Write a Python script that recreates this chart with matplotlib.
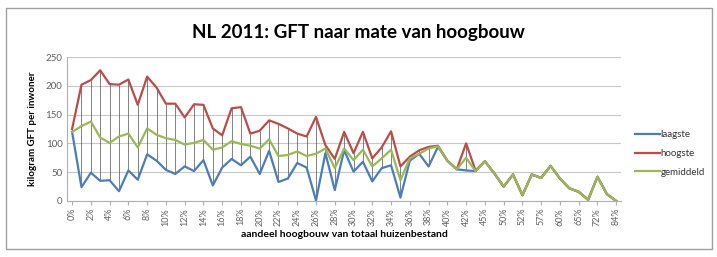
import matplotlib.pyplot as plt
from matplotlib.patches import Rectangle
import numpy as np

plt.rcParams['font.family'] = ['Lato', 'DejaVu Sans']

# categories: aandeel hoogbouw (every other one is labelled on the axis)
cats = [f'{p}%' for p in range(0, 44)] + ['45%', '47%', '50%', '51%', '52%', '55%', '57%', '58%',
                                          '60%', '63%', '65%', '70%', '72%', '80%', '84%']

laagste = [120, 24, 49, 35, 36, 17, 53, 37, 81, 70, 54, 47, 60, 52, 71, 27, 58, 73, 62, 77,
           47, 87, 33, 39, 66, 58, 1, 83, 19, 88, 51, 68, 34, 57, 62, 6, 70, 82, 60, 94,
           70, 55, 53, 52, 69, 48, 25, 46, 10, 46, 40, 61, 39, 22, 16, 2, 42, 12, 0]
hoogste = [125, 202, 210, 227, 203, 202, 211, 167, 216, 197, 169, 169, 145, 168, 167, 126, 114, 161, 163, 117,
           122, 140, 134, 126, 117, 112, 146, 97, 73, 120, 83, 120, 74, 93, 121, 60, 77, 88, 94, 96,
           70, 55, 100, 53, 69, 48, 25, 46, 10, 46, 40, 61, 39, 22, 16, 2, 42, 12, 0]
gemiddeld = [120, 130, 138, 110, 101, 112, 117, 93, 126, 115, 109, 106, 98, 101, 106, 89, 93, 104, 99, 96,
             91, 107, 78, 80, 86, 78, 82, 91, 57, 91, 71, 89, 60, 74, 89, 36, 74, 82, 91, 95,
             70, 55, 75, 52, 69, 48, 25, 46, 10, 46, 40, 61, 39, 22, 16, 2, 42, 12, 0]

x = np.arange(len(cats))
lo = np.minimum.reduce([laagste, hoogste, gemiddeld])
hi = np.maximum.reduce([laagste, hoogste, gemiddeld])

fig = plt.figure(figsize=(7.17, 2.57), dpi=100)
fig.patches.append(Rectangle((0.008, 0.03), 0.985, 0.94, transform=fig.transFigure,
                             fill=False, edgecolor='#a0a0a0', lw=1.0))
ax = fig.add_axes([0.094, 0.218, 0.772, 0.56])

# high-low lines
ax.vlines(x, lo, hi, color='#505050', lw=0.5, zorder=2)
ax.plot(x, laagste, color='#4a7ebb', lw=1.6, label='laagste', zorder=3)
ax.plot(x, hoogste, color='#be4b48', lw=1.6, label='hoogste', zorder=3)
ax.plot(x, gemiddeld, color='#98b954', lw=1.6, label='gemiddeld', zorder=4)

ax.set_xlim(-0.5, len(cats) - 0.5)
ax.set_ylim(0, 250)
ax.set_yticks(np.arange(0, 251, 50))
ax.grid(axis='y', color='#c8c8c8', lw=0.8)
ax.set_axisbelow(True)
ax.set_xticks(x[::2])
ax.set_xticklabels(cats[::2], rotation=90, fontsize=6.5, color='#606060')
ax.tick_params(axis='y', labelsize=7, colors='#606060', length=0)
ax.tick_params(axis='x', length=3, color='#b0b0b0', pad=2)
for s in ['top', 'right']:
    ax.spines[s].set_visible(False)
ax.spines['left'].set_color('#b0b0b0')
ax.spines['bottom'].set_color('#b0b0b0')

ax.set_ylabel('kilogram GFT per inwoner', fontsize=7, fontweight='bold', labelpad=6)
ax.set_xlabel('aandeel hoogbouw van totaal huizenbestand', fontsize=7.5, fontweight='bold', labelpad=3)
fig.text(0.5, 0.875, 'NL 2011: GFT naar mate van hoogbouw', ha='center', va='center',
         fontsize=13.5, fontweight='bold')

ax.legend(loc='center left', bbox_to_anchor=(1.01, 0.33), frameon=False, fontsize=7,
          handlelength=2.5, labelspacing=1.0, handletextpad=0.1, labelcolor='#333333')

fig.savefig('out.png', dpi=100)
